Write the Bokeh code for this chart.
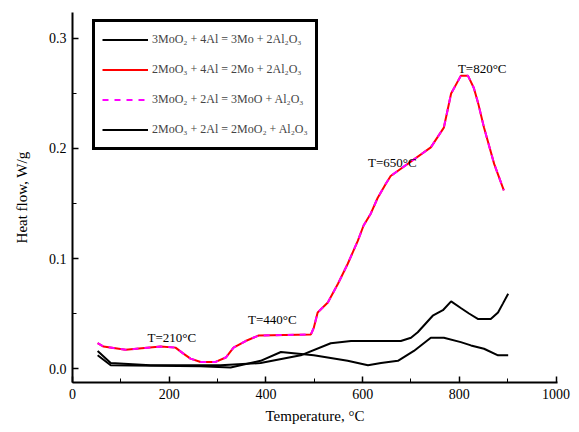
from bokeh.plotting import figure
from bokeh.models import Legend, LegendItem, ColumnDataSource, FixedTicker, Range1d, CustomJSTickFormatter
from bokeh.core.properties import value
from bokeh.embed import file_html
from bokeh.resources import INLINE

# Series (Temperature °C, value)
big_x = [52, 64, 110, 182, 213, 228, 244, 265, 296, 317, 333, 358, 385, 493, 499, 507, 528, 549, 569, 590,
         602, 617, 631, 648, 658, 741, 768, 783, 803, 818, 830, 839, 851, 872, 892]
big_y = [0.023, 0.020, 0.017, 0.020, 0.019, 0.014, 0.009, 0.006, 0.006, 0.010, 0.019, 0.025, 0.030, 0.031,
         0.037, 0.051, 0.060, 0.077, 0.095, 0.116, 0.130, 0.141, 0.155, 0.168, 0.175, 0.201, 0.219, 0.250,
         0.266, 0.266, 0.255, 0.241, 0.219, 0.186, 0.162]

a_x = [52, 79, 161, 306, 389, 472, 534, 576, 679, 700, 714, 745, 766, 783, 803, 820, 839, 865, 880, 890, 901]
a_y = [0.016, 0.005, 0.003, 0.003, 0.005, 0.012, 0.023, 0.025, 0.025, 0.028, 0.033, 0.048, 0.053, 0.061,
       0.055, 0.050, 0.045, 0.045, 0.051, 0.059, 0.068]

b_x = [52, 79, 265, 327, 389, 431, 499, 569, 611, 638, 673, 706, 741, 768, 803, 824, 851, 880, 901]
b_y = [0.012, 0.003, 0.002, 0.001, 0.007, 0.015, 0.012, 0.007, 0.003, 0.005, 0.007, 0.016, 0.028, 0.028,
       0.024, 0.021, 0.018, 0.012, 0.012]

legend_labels = ["3MoO\u2082 + 4Al = 3Mo + 2Al\u2082O\u2083",
                 "2MoO\u2083 + 4Al = 2Mo + 2Al\u2082O\u2083",
                 "3MoO\u2082 + 2Al = 3MoO + Al\u2082O\u2083",
                 "2MoO\u2083 + 2Al = 2MoO\u2082 + Al\u2082O\u2083"]

ann_text = ["T=210\u00b0C", "T=440\u00b0C", "T=650\u00b0C", "T=820\u00b0C"]
ann_x = [155, 363, 611, 797]
ann_y = [0.028, 0.045, 0.187, 0.273]

x_ticks = [0, 200, 400, 600, 800, 1000]
y_ticks = [0.0, 0.1, 0.2, 0.3]

FONT = "Liberation Serif"

p = figure(width=575, height=428, output_backend="svg", toolbar_location=None,
           x_range=Range1d(0, 1003), y_range=Range1d(-0.0127, 0.3236),
           min_border_left=72, min_border_right=18, min_border_top=12, min_border_bottom=46)
p.outline_line_color = None
p.xgrid.visible = False
p.ygrid.visible = False

r1 = p.line(a_x, a_y, line_color="black", line_width=2)
r2 = p.line(big_x, big_y, line_color="red", line_width=2)
r3 = p.line(big_x, big_y, line_color="magenta", line_width=2, line_dash="6 6")
r4 = p.line(b_x, b_y, line_color="black", line_width=2)

src = ColumnDataSource(dict(x=ann_x, y=ann_y, t=ann_text))
p.text("x", "y", text="t", source=src, text_font=value(FONT), text_font_size="13px",
       text_baseline="middle", text_align="left", text_color="black")

for ax in (p.xaxis[0], p.yaxis[0]):
    ax.axis_line_color = "black"
    ax.axis_line_width = 2
    ax.major_tick_in = 6
    ax.major_tick_out = 0
    ax.minor_tick_in = 4
    ax.minor_tick_out = 0
    ax.major_tick_line_width = 1.5
    ax.major_label_text_font = FONT
    ax.major_label_text_font_size = "14px"
    ax.major_label_text_color = "black"
    ax.axis_label_text_font = FONT
    ax.axis_label_text_font_size = "15px"
    ax.axis_label_text_font_style = "normal"
    ax.axis_label_text_color = "black"

p.xaxis.ticker = FixedTicker(ticks=x_ticks, minor_ticks=list(range(0, 1001, 100)))
p.yaxis.ticker = FixedTicker(ticks=y_ticks, minor_ticks=[0.05, 0.15, 0.25])
p.yaxis.formatter = CustomJSTickFormatter(code="return tick.toFixed(1);")
p.xaxis.axis_label = "Temperature, \u00b0C"
p.yaxis.axis_label = "Heat flow, W/g"
p.xaxis.major_label_standoff = 6
p.yaxis.major_label_standoff = 6
p.yaxis.axis_label_standoff = 16
p.xaxis.axis_label_standoff = 6

legend = Legend(items=[LegendItem(label=legend_labels[0], renderers=[r1]),
                       LegendItem(label=legend_labels[1], renderers=[r2]),
                       LegendItem(label=legend_labels[2], renderers=[r3]),
                       LegendItem(label=legend_labels[3], renderers=[r4])],
                location=(20, 232))
legend.border_line_color = "black"
legend.border_line_alpha = 1
legend.border_line_width = 3
legend.background_fill_alpha = 1
legend.label_text_font = FONT
legend.label_text_font_size = "12px"
legend.glyph_width = 46
legend.glyph_height = 21
legend.label_height = 21
legend.spacing = 9
legend.padding = 7
legend.margin = 0
legend.label_standoff = 4
p.add_layout(legend)

open("out.html", "w").write(file_html(p, INLINE))
